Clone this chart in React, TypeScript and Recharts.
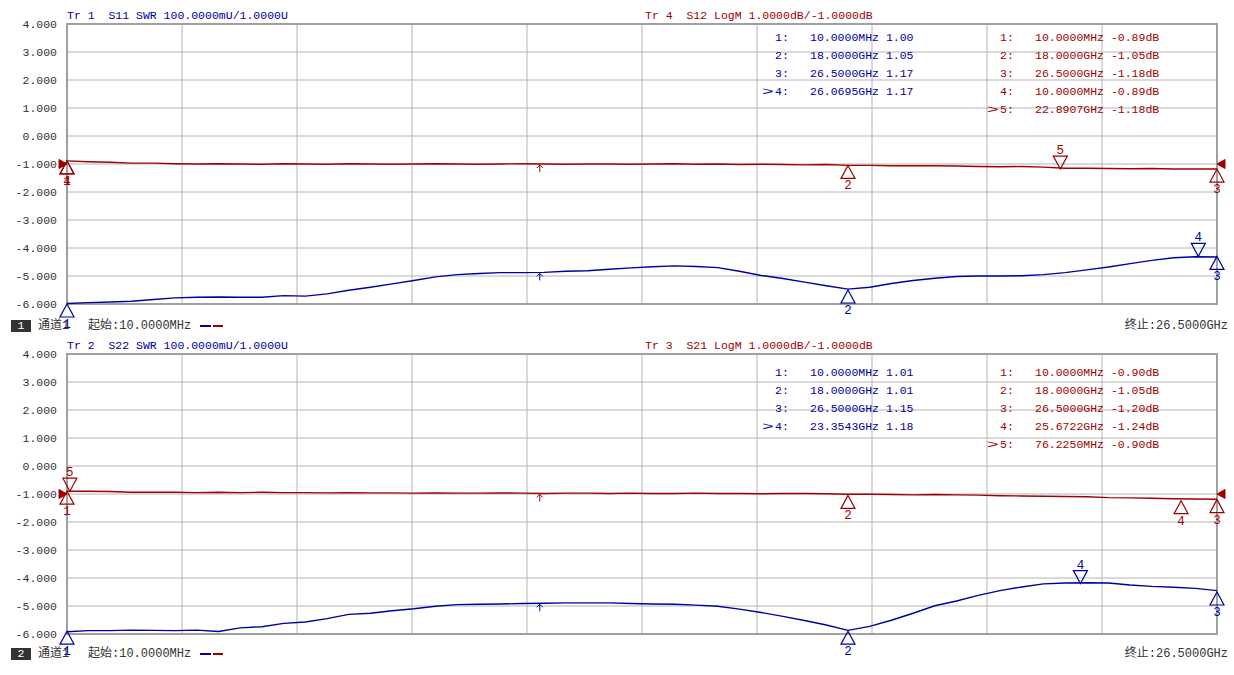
import React from "react";
import { ComposedChart, Line, Scatter, XAxis, YAxis, CartesianGrid, ReferenceArea } from "recharts";

const BLUE = "#0000a0";
const RED = "#a00000";
const GRID = "#b4b4b4";
const FRAME = "#a0a0a0";
const INK = "#333";
const MONO = '"Liberation Mono", "Noto Sans CJK SC", monospace';

const startGHz = 0.01;
const stopGHz = 26.5;

// sweep points (GHz)
const freqGHz = [
  0.01, 0.5, 1, 1.5, 2, 2.5, 3, 3.5, 4, 4.5, 5, 5.5, 6, 6.5, 7, 7.5, 8, 8.5, 9, 9.5,
  10, 10.5, 11, 11.5, 12, 12.5, 13, 13.5, 14, 14.5, 15, 15.5, 16, 16.5, 17, 17.5, 18, 18.5, 19, 19.5,
  20, 20.5, 21, 21.5, 22, 22.5, 23, 23.5, 24, 24.5, 25, 25.5, 26, 26.5,
];

const yTicks = [4, 3, 2, 1, 0, -1, -2, -3, -4, -5, -6];
const xGridGHz = [0.01, 2.659, 5.308, 7.957, 10.606, 13.255, 15.904, 18.553, 21.202, 23.851, 26.5];
const swrRange = [1, 2]; // 100 mU/div, ref 1.0000U on the bottom line
const refLevelDb = -1;
const sweepArrowGHz = 10.9;

// window 1
const s11Swr = [
  1.002, 1.005, 1.007, 1.01, 1.016, 1.022, 1.024, 1.025, 1.024, 1.024,
  1.03, 1.028, 1.036, 1.049, 1.06, 1.072, 1.084, 1.097, 1.105, 1.109,
  1.112, 1.112, 1.113, 1.117, 1.119, 1.124, 1.129, 1.133, 1.136, 1.134,
  1.13, 1.117, 1.102, 1.091, 1.078, 1.065, 1.053, 1.06, 1.073, 1.084,
  1.092, 1.098, 1.1, 1.1, 1.101, 1.105, 1.112, 1.122, 1.132, 1.144,
  1.156, 1.165, 1.169, 1.168,
];
const s12Db = [
  -0.89, -0.92, -0.94, -0.97, -0.97, -0.99, -1.0, -0.99, -1.0, -1.01,
  -0.99, -1.0, -1.01, -0.99, -1.0, -1.01, -1.0, -0.99, -1.0, -1.01,
  -1.0, -0.99, -1.0, -1.01, -1.0, -1.0, -1.01, -1.0, -0.99, -1.01,
  -1.0, -1.02, -1.01, -1.02, -1.03, -1.02, -1.05, -1.05, -1.06, -1.06,
  -1.06, -1.07, -1.09, -1.1, -1.09, -1.11, -1.15, -1.15, -1.16, -1.17,
  -1.16, -1.18, -1.18, -1.18,
];

// window 2
const s22Swr = [
  1.008, 1.012, 1.012, 1.014, 1.013, 1.012, 1.014, 1.009, 1.022, 1.026,
  1.038, 1.043, 1.055, 1.07, 1.074, 1.083, 1.09, 1.099, 1.105, 1.106,
  1.107, 1.109, 1.11, 1.111, 1.111, 1.111, 1.109, 1.107, 1.106, 1.103,
  1.099, 1.089, 1.077, 1.063, 1.048, 1.032, 1.013, 1.027, 1.049, 1.074,
  1.101, 1.118, 1.138, 1.155, 1.168, 1.179, 1.182, 1.183, 1.182, 1.175,
  1.17, 1.167, 1.163, 1.155,
];
const s21Db = [
  -0.9, -0.9, -0.91, -0.94, -0.94, -0.94, -0.95, -0.94, -0.95, -0.94,
  -0.95, -0.95, -0.96, -0.95, -0.96, -0.96, -0.97, -0.96, -0.97, -0.97,
  -0.96, -0.97, -0.98, -0.97, -0.97, -0.98, -0.97, -0.98, -0.98, -0.97,
  -0.98, -0.98, -0.99, -0.98, -0.98, -0.99, -1.01, -1.01, -1.02, -1.03,
  -1.02, -1.03, -1.04, -1.06, -1.07, -1.08, -1.09, -1.1, -1.13, -1.14,
  -1.15, -1.17, -1.18, -1.19,
];

type Mk = { n: string; f: number; v: number };

const s11Markers: Mk[] = [
  { n: "1", f: 0.01, v: 1.0 },
  { n: "2", f: 18, v: 1.05 },
  { n: "3", f: 26.5, v: 1.17 },
  { n: "4", f: 26.0695, v: 1.17 },
];
const s11Active = "4";
const s12Markers: Mk[] = [
  { n: "1", f: 0.01, v: -0.89 },
  { n: "2", f: 18, v: -1.05 },
  { n: "3", f: 26.5, v: -1.18 },
  { n: "4", f: 0.01, v: -0.89 },
  { n: "5", f: 22.8907, v: -1.18 },
];
const s12Active = "5";
const s22Markers: Mk[] = [
  { n: "1", f: 0.01, v: 1.01 },
  { n: "2", f: 18, v: 1.01 },
  { n: "3", f: 26.5, v: 1.15 },
  { n: "4", f: 23.3543, v: 1.18 },
];
const s22Active = "4";
const s21Markers: Mk[] = [
  { n: "1", f: 0.01, v: -0.9 },
  { n: "2", f: 18, v: -1.05 },
  { n: "3", f: 26.5, v: -1.2 },
  { n: "4", f: 25.6722, v: -1.24 },
  { n: "5", f: 0.076225, v: -0.9 },
];
const s21Active = "5";

const fmtFreq = (g: number) => (g < 1 ? (g * 1000).toFixed(4) + "MHz" : g.toFixed(4) + "GHz");

function valueAt(vals: number[], f: number) {
  for (let i = 1; i < freqGHz.length; i++) {
    if (freqGHz[i] >= f) {
      const t = (f - freqGHz[i - 1]) / (freqGHz[i] - freqGHz[i - 1]);
      return vals[i - 1] + t * (vals[i] - vals[i - 1]);
    }
  }
  return vals[vals.length - 1];
}

function Txt({ x, y, color, size = 11.5, children, style }: any) {
  return (
    <div
      style={{
        position: "absolute",
        left: x,
        top: y - 7,
        fontFamily: MONO,
        fontSize: size,
        lineHeight: "14px",
        color,
        whiteSpace: "pre",
        ...style,
      }}
    >
      {children}
    </div>
  );
}

const markerShape = (color: string, active: string) => (p: any) => {
  const { cx, cy } = p;
  const n = p.payload.n;
  const down = n === active;
  const d = down
    ? `M${cx},${cy} L${cx - 7},${cy - 13} L${cx + 7},${cy - 13} Z`
    : `M${cx},${cy} L${cx - 7},${cy + 13} L${cx + 7},${cy + 13} Z`;
  return (
    <g>
      <path d={d} fill="none" stroke={color} strokeWidth={1.2} />
      <text x={cx} y={down ? cy - 15 : cy + 24} textAnchor="middle" fill={color} fontSize={12.5} fontFamily={MONO}>
        {n}
      </text>
    </g>
  );
};

const arrowShape = (color: string) => (p: any) => {
  const { cx, cy } = p;
  return (
    <path
      d={`M${cx},${cy + 1} L${cx},${cy + 8} M${cx - 3},${cy + 4} L${cx},${cy + 1} L${cx + 3},${cy + 4}`}
      fill="none"
      stroke={color}
      strokeWidth={1}
    />
  );
};

const refShape = (p: any) => {
  const { cx, cy } = p;
  const d = p.payload.f < 1
    ? `M${cx},${cy} L${cx - 8},${cy - 4.5} L${cx - 8},${cy + 4.5} Z`
    : `M${cx},${cy} L${cx + 8},${cy - 4.5} L${cx + 8},${cy + 4.5} Z`;
  return <path d={d} fill={RED} stroke={RED} strokeWidth={1} />;
};

function MarkerTable({ markers, active, x, y, color, unit }: any) {
  return (
    <>
      {markers.map((m: Mk, i: number) => (
        <React.Fragment key={i}>
          {m.n === active && (
            <Txt
              x={x - 13}
              y={y + i * 18}
              color={color}
              style={{ transform: "scaleX(1.7)", transformOrigin: "left center" }}
            >
              {">"}
            </Txt>
          )}
          <Txt x={x} y={y + i * 18} color={color}>{m.n + ":"}</Txt>
          <Txt x={x + 35} y={y + i * 18} color={color}>
            {fmtFreq(m.f) + " " + m.v.toFixed(2) + unit}
          </Txt>
        </React.Fragment>
      ))}
    </>
  );
}

function Panel(props: any) {
  const { top, height, win, swrTitle, dbTitle, swr, db, swrMarkers, swrActive, dbMarkers, dbActive, tableY, statusY } = props;
  const swrData = freqGHz.map((f, i) => ({ f, v: swr[i] }));
  const dbData = freqGHz.map((f, i) => ({ f, v: db[i] }));
  const refData = [{ f: startGHz, v: refLevelDb }, { f: stopGHz, v: refLevelDb }];
  return (
    <div style={{ position: "absolute", left: 0, top, width: 1234, height }}>
      <ComposedChart width={1234} height={height} margin={{ top: 24, right: 17, bottom: height - 304, left: 0 }}>
        <CartesianGrid stroke={GRID} strokeWidth={1} />
        <XAxis dataKey="f" type="number" domain={[startGHz, stopGHz]} ticks={xGridGHz} hide />
        <YAxis
          dataKey="v"
          type="number"
          domain={[-6, 4]}
          ticks={yTicks}
          interval={0}
          width={67}
          axisLine={false}
          tickLine={false}
          tickSize={0}
          tickMargin={10}
          tickFormatter={(v: number) => v.toFixed(3)}
          tick={{ fill: INK, fontSize: 11.5, fontFamily: MONO }}
        />
        <YAxis yAxisId="swr" dataKey="v" type="number" domain={swrRange} hide />
        <ReferenceArea x1={startGHz} x2={stopGHz} y1={-6} y2={4} fill="none" fillOpacity={0} stroke={FRAME} strokeWidth={2} />
        <Line data={dbData} dataKey="v" stroke={RED} strokeWidth={1.4} dot={false} isAnimationActive={false} />
        <Line yAxisId="swr" data={swrData} dataKey="v" stroke={BLUE} strokeWidth={1.4} dot={false} isAnimationActive={false} />
        <Scatter data={refData} shape={refShape} isAnimationActive={false} />
        <Scatter data={[{ f: sweepArrowGHz, v: valueAt(db, sweepArrowGHz) }]} shape={arrowShape(RED)} isAnimationActive={false} />
        <Scatter yAxisId="swr" data={[{ f: sweepArrowGHz, v: valueAt(swr, sweepArrowGHz) }]} shape={arrowShape(BLUE)} isAnimationActive={false} />
        <Scatter data={dbMarkers} shape={markerShape(RED, dbActive)} isAnimationActive={false} />
        <Scatter yAxisId="swr" data={swrMarkers} shape={markerShape(BLUE, swrActive)} isAnimationActive={false} />
      </ComposedChart>

      <Txt x={67} y={16} color={BLUE}>{swrTitle}</Txt>
      <Txt x={645} y={16} color={RED}>{dbTitle}</Txt>
      <MarkerTable markers={swrMarkers} active={swrActive} x={775} y={tableY} color={BLUE} unit="" />
      <MarkerTable markers={dbMarkers} active={dbActive} x={1000} y={tableY} color={RED} unit="dB" />

      <div
        style={{
          position: "absolute",
          left: 11,
          top: statusY - 6,
          width: 20,
          height: 12,
          background: INK,
          color: "#fff",
          fontFamily: MONO,
          fontSize: 11.5,
          lineHeight: "12px",
          textAlign: "center",
        }}
      >
        {win}
      </div>
      <Txt x={38} y={statusY} color={INK} size={12}>通道1</Txt>
      <Txt x={88} y={statusY} color={INK} size={12}>{"起始:" + fmtFreq(startGHz)}</Txt>
      <div style={{ position: "absolute", left: 200, top: statusY - 1, width: 11, height: 1.5, background: BLUE }} />
      <div style={{ position: "absolute", left: 213, top: statusY - 1, width: 10, height: 1.5, background: RED }} />
      <div
        style={{
          position: "absolute",
          right: 6,
          top: statusY - 7,
          fontFamily: MONO,
          fontSize: 12,
          lineHeight: "14px",
          color: INK,
          whiteSpace: "pre",
        }}
      >
        {"终止:" + fmtFreq(stopGHz)}
      </div>
    </div>
  );
}

export default function App() {
  return (
    <div style={{ position: "absolute", left: 0, top: 0, width: 1234, height: 675, background: "#fff", overflow: "hidden" }}>
      <Panel
        top={0}
        height={336}
        win="1"
        swrTitle="Tr 1  S11 SWR 100.0000mU/1.0000U"
        dbTitle="Tr 4  S12 LogM 1.0000dB/-1.0000dB"
        swr={s11Swr}
        db={s12Db}
        swrMarkers={s11Markers}
        swrActive={s11Active}
        dbMarkers={s12Markers}
        dbActive={s12Active}
        tableY={38}
        statusY={326}
      />
      <Panel
        top={330}
        height={345}
        win="2"
        swrTitle="Tr 2  S22 SWR 100.0000mU/1.0000U"
        dbTitle="Tr 3  S21 LogM 1.0000dB/-1.0000dB"
        swr={s22Swr}
        db={s21Db}
        swrMarkers={s22Markers}
        swrActive={s22Active}
        dbMarkers={s21Markers}
        dbActive={s21Active}
        tableY={42.5}
        statusY={324}
      />
    </div>
  );
}
